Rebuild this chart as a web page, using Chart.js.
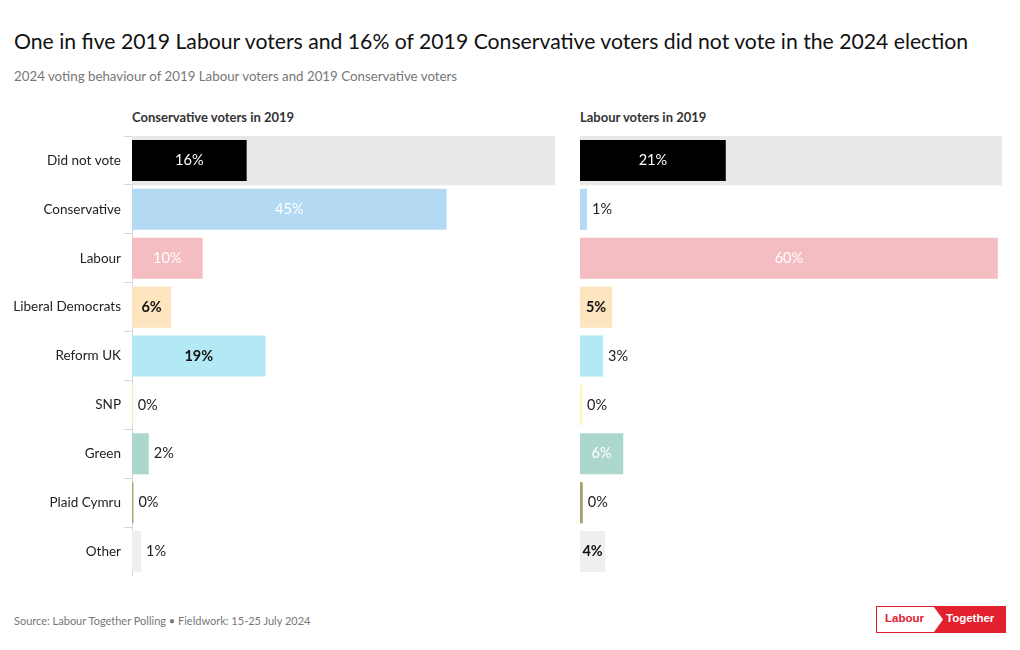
<!DOCTYPE html>
<html>
<head>
<meta charset="utf-8">
<script src="https://cdn.jsdelivr.net/npm/chart.js@4"></script>
<style>
  body { margin: 0; background: #fff; font-family: Lato, "Open Sans", sans-serif; }
  #wrap { position: relative; width: 1020px; height: 650px; overflow: hidden; }
  .title { position: absolute; left: 14px; top: 28px; font-size: 21.2px; color: #111; white-space: nowrap; }
  .subtitle { position: absolute; left: 14px; top: 68px; font-size: 13.3px; color: #777; white-space: nowrap; }
  .panel { position: absolute; top: 109px; font-size: 13px; font-weight: bold; color: #333; white-space: nowrap; }
  .source { position: absolute; left: 14px; top: 614px; font-size: 11px; color: #777; white-space: nowrap; }
  #left { position: absolute; left: 0; top: 136px; }
  #right { position: absolute; left: 580px; top: 136px; }
  .logo { position: absolute; left: 876px; top: 606px; width: 128px; height: 25px; border: 1px solid #e3202d; background: #e3202d; }
  .logo .l { position: absolute; left: 0; top: 0; width: 66px; height: 25px; background: #fff;
             clip-path: polygon(0 0, 57px 0, 66px 12.5px, 57px 25px, 0 25px); }
  .logo span { position: absolute; top: 5px; font-size: 11.5px; font-weight: bold; font-family: "Liberation Sans", Arial, sans-serif; }
  .logo .a { left: 8px; color: #e3202d; }
  .logo .b { left: 69px; color: #fff; }
</style>
</head>
<body>
<div id="wrap">
  <div class="title">One in five 2019 Labour voters and 16% of 2019 Conservative voters did not vote in the 2024 election</div>
  <div class="subtitle">2024 voting behaviour of 2019 Labour voters and 2019 Conservative voters</div>
  <div class="panel" style="left:132px">Conservative voters in 2019</div>
  <div class="panel" style="left:580px">Labour voters in 2019</div>
  <canvas id="left" width="555" height="440"></canvas>
  <canvas id="right" width="422" height="440"></canvas>
  <div class="source">Source: Labour Together Polling • Fieldwork: 15-25 July 2024</div>
  <div class="logo"><div class="l"></div><span class="a">Labour</span><span class="b">Together</span></div>
</div>
<script>
// categories and values (% of 2019 voters)
const parties = ['Did not vote', 'Conservative', 'Labour', 'Liberal Democrats', 'Reform UK', 'SNP', 'Green', 'Plaid Cymru', 'Other'];
const conservative2019 = [16.4, 45.0, 10.1, 5.6, 19.1, 0.1, 2.4, 0.2, 1.3];
const labour2019 = [20.9, 1.0, 59.9, 4.6, 3.3, 0.3, 6.2, 0.4, 3.6];
const highlight = [60.5, null, null, null, null, null, null, null, null];

const barColors = ['#000000', '#b3daf2', '#f4bdc1', '#fde5bf', '#b3e9f4', '#fdf7b0', '#acd7cf', '#a89e68', '#efefef'];
const insideText = ['#ffffff', '#ffffff', '#ffffff', '#111111', '#111111', '#111111', '#ffffff', '#111111', '#111111'];
const insideBold = [false, false, false, true, true, false, false, false, true];
const FONT = 'Lato, "Open Sans", sans-serif';

const valueLabels = {
    id: 'valueLabels',
    afterDatasetsDraw(chart) {
        const ctx = chart.ctx;
        const meta = chart.getDatasetMeta(0);
        const values = chart.data.datasets[0].data;
        ctx.save();
        ctx.textBaseline = 'middle';
        meta.data.forEach(function (bar, i) {
            const text = Math.round(values[i]) + '%';
            const w = bar.x - bar.base;
            ctx.font = (insideBold[i] ? 'bold ' : '') + '14.5px ' + FONT;
            const tw = ctx.measureText(text).width;
            if (w >= tw + 4) {
                ctx.fillStyle = insideText[i];
                ctx.textAlign = 'center';
                ctx.fillText(text, bar.base + w / 2, bar.y);
            } else {
                ctx.font = '14.5px ' + FONT;
                ctx.fillStyle = '#222';
                ctx.textAlign = 'left';
                ctx.fillText(text, bar.x + 5, bar.y);
            }
        });
        ctx.restore();
    }
};

function makeChart(id, values, showAxis) {
    return new Chart(document.getElementById(id), {
        type: 'bar',
        data: {
            labels: parties,
            datasets: [{
                data: values,
                backgroundColor: barColors,
                barPercentage: 0.84,
                categoryPercentage: 1,
                grouped: false,
                order: 1
            }, {
                data: highlight,
                backgroundColor: '#e8e8e8',
                barPercentage: 1,
                categoryPercentage: 1,
                grouped: false,
                order: 2
            }]
        },
        options: {
            indexAxis: 'y',
            responsive: false,
            animation: false,
            layout: { padding: 0 },
            plugins: {
                legend: { display: false },
                tooltip: { enabled: false }
            },
            scales: {
                x: { display: false, min: 0, max: 60.5 },
                y: {
                    display: showAxis,
                    afterFit: function (scale) {
                        if (!showAxis) return;
                        scale.width = 132;
                        scale.paddingTop = 0;
                        scale.paddingBottom = 0;
                    },
                    border: { display: true, color: '#d6d6d6' },
                    grid: { drawOnChartArea: false, color: '#d6d6d6', tickLength: 8 },
                    ticks: { color: '#222', padding: 3, font: { family: FONT, size: 13.5 } }
                }
            }
        },
        plugins: [valueLabels]
    });
}

makeChart('left', conservative2019, true);
makeChart('right', labour2019, false);
</script>
</body>
</html>
